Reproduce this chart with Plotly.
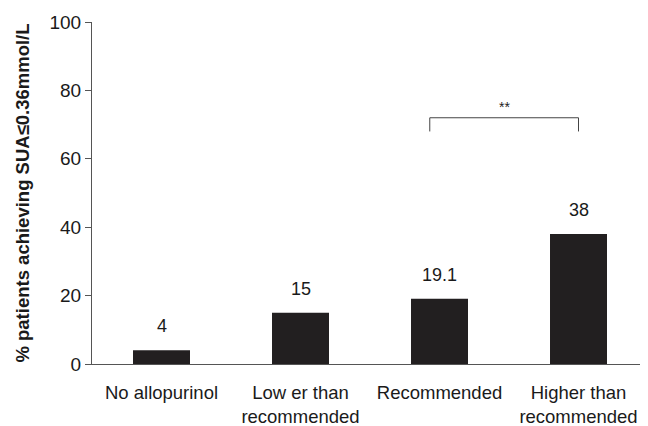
import plotly.graph_objects as go

categories = ["No allopurinol", "Low er than<br>recommended", "Recommended", "Higher than<br>recommended"]
values = [4, 15, 19.1, 38]
value_labels = ["4", "15", "19.1", "38"]
y_ticks = [0, 20, 40, 60, 80, 100]
sig_pair = [1.93, 3]
sig_label = "**"
sig_y = 72
sig_drop = 68

FONT = "Liberation Sans, Arial, sans-serif"

fig = go.Figure()
fig.add_trace(go.Bar(
    x=list(range(len(categories))), y=values, width=0.41,
    marker=dict(color="#221f20", line=dict(width=0)),
))

for i, (v, lab) in enumerate(zip(values, value_labels)):
    fig.add_annotation(x=i, y=v, text=lab, showarrow=False, yanchor="bottom", yshift=12,
                       font=dict(family=FONT, size=18, color="#1a1a1a"))

# significance bracket
fig.add_shape(type="path", xref="x", yref="y",
              path=f"M {sig_pair[0]},{sig_drop} L {sig_pair[0]},{sig_y} L {sig_pair[1]},{sig_y} L {sig_pair[1]},{sig_drop}",
              line=dict(color="#444444", width=1))
fig.add_annotation(x=(sig_pair[0] + sig_pair[1]) / 2, y=sig_y, text=sig_label, showarrow=False,
                   yanchor="bottom", yshift=1,
                   font=dict(family=FONT, size=14, color="#222222"))

fig.update_layout(
    width=640, height=418,
    margin=dict(l=84, r=0, t=14, b=62),
    paper_bgcolor="white", plot_bgcolor="white",
    showlegend=False,
    font=dict(family=FONT, size=18, color="#1a1a1a"),
    xaxis=dict(
        range=[-0.5, 3.5], tickmode="array", tickvals=list(range(len(categories))), ticktext=categories,
        showline=True, linecolor="#555555", linewidth=1, ticks="", showgrid=False, zeroline=False,
        tickfont=dict(size=18.5), ticklabelstandoff=12,
    ),
    yaxis=dict(
        range=[0, 100], tickvals=y_ticks, showline=True, linecolor="#555555", linewidth=1,
        ticks="outside", ticklen=6, tickcolor="#555555", showgrid=False, zeroline=False,
        tickfont=dict(size=19),
        title=dict(text="<b>% patients achieving SUA≤0.36mmol/L</b>", font=dict(size=18.5), standoff=15),
    ),
)
fig.write_html("out.html")
